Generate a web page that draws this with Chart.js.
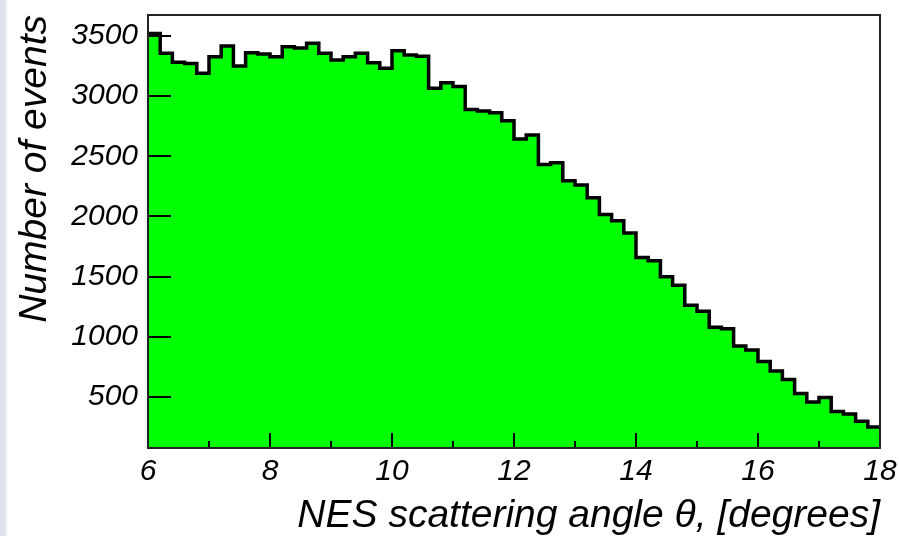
<!DOCTYPE html>
<html>
<head>
<meta charset="utf-8">
<title>NES scattering angle</title>
<script src="https://cdn.jsdelivr.net/npm/chart.js@4.4.0/dist/chart.umd.min.js"></script>
<style>
  html, body { margin: 0; padding: 0; }
  body {
    width: 899px;
    height: 536px;
    overflow: hidden;
    background: linear-gradient(to right, #d8deeb 0px, #dfe4ef 5px, #ffffff 8px);
  }
  canvas { display: block; }
</style>
</head>
<body>
<canvas id="chart" width="899" height="536"></canvas>
<script>
// histogram: 60 bins of 0.2 degrees from 6 to 18
const binStart = 6;
const binWidth = 0.2;
const counts = [
  3520, 3355, 3280, 3270, 3190, 3327, 3416, 3250, 3360, 3349,
  3327, 3410, 3398, 3438, 3355, 3299, 3327, 3355, 3277, 3230,
  3377, 3340, 3330, 3064, 3111, 3080, 2889, 2875, 2861, 2795,
  2642, 2676, 2432, 2446, 2296, 2260, 2155, 2016, 1963, 1863,
  1659, 1631, 1498, 1429, 1262, 1212, 1080, 1066, 923, 891,
  794, 715, 645, 528, 458, 495, 380, 359, 299, 251
];

const xMajorTicks = [6, 8, 10, 12, 14, 16, 18];
const xMinorTicks = [7, 9, 11, 13, 15, 17];
const yTicks = [500, 1000, 1500, 2000, 2500, 3000, 3500];
const yMin = 76;
const yMax = 3673;

// step points at the bin edges, last edge repeats the last count
const points = counts.map((c, i) => ({ x: binStart + i * binWidth, y: c }));
points.push({ x: binStart + counts.length * binWidth, y: counts[counts.length - 1] });

const labelFont = { family: "'Liberation Sans', Arial, sans-serif", style: "italic", size: 30 };
const titleFont = { family: "'Liberation Sans', Arial, sans-serif", style: "italic", size: 39, lineHeight: 1 };

// ROOT style: ticks inside the frame
const rootFrame = {
  id: "rootFrame",
  afterDatasetsDraw(chart) {
    const { ctx, chartArea: a, scales: { x, y } } = chart;
    ctx.save();
    ctx.strokeStyle = "#000";
    ctx.lineWidth = 2;
    ctx.beginPath();
    xMajorTicks.forEach((v) => {
      const px = Math.round(x.getPixelForValue(v));
      ctx.moveTo(px, a.bottom);
      ctx.lineTo(px, a.bottom - 15);
    });
    xMinorTicks.forEach((v) => {
      const px = Math.round(x.getPixelForValue(v));
      ctx.moveTo(px, a.bottom);
      ctx.lineTo(px, a.bottom - 7);
    });
    yTicks.forEach((v) => {
      const py = Math.round(y.getPixelForValue(v));
      ctx.moveTo(a.left, py);
      ctx.lineTo(a.left + 23, py);
    });
    ctx.stroke();

    ctx.strokeStyle = "#222";
    ctx.strokeRect(a.left, a.top, a.right - a.left, a.bottom - a.top);
    ctx.restore();
  },
};

new Chart(document.getElementById("chart"), {
  type: "line",
  data: {
    datasets: [
      {
        label: "events",
        data: points,
        stepped: "before",
        fill: "start",
        backgroundColor: "#00ff00",
        borderColor: "#000",
        borderWidth: 3.5,
        borderJoinStyle: "miter",
        pointRadius: 0,
      },
    ],
  },
  options: {
    responsive: false,
    animation: false,
    layout: { padding: { top: 15, right: 19, left: 0, bottom: 0 } },
    plugins: {
      legend: { display: false },
      tooltip: { enabled: false },
    },
    scales: {
      x: {
        type: "linear",
        min: 6,
        max: 18,
        grid: { display: false, drawTicks: false },
        border: { display: false },
        afterBuildTicks: (s) => { s.ticks = xMajorTicks.map((v) => ({ value: v })); },
        afterFit: (s) => {
          s.height = 88;
          s.paddingLeft = 0;
          s.paddingRight = 0;
        },
        ticks: { font: labelFont, color: "#000", padding: 6, maxRotation: 0, callback: (v) => String(v) },
        title: {
          display: true,
          text: "NES scattering angle θ, [degrees]",
          align: "end",
          font: titleFont,
          color: "#000",
          padding: { top: 0, bottom: 0 },
        },
      },
      y: {
        min: yMin,
        max: yMax,
        grid: { display: false, drawTicks: false },
        border: { display: false },
        afterBuildTicks: (s) => { s.ticks = yTicks.map((v) => ({ value: v })); },
        afterFit: (s) => {
          s.width = 148;
          s.paddingTop = 0;
          s.paddingBottom = 0;
        },
        ticks: { font: labelFont, color: "#000", padding: 10, callback: (v) => String(v) },
        title: {
          display: true,
          text: "Number of events",
          align: "end",
          font: titleFont,
          color: "#000",
          padding: { top: 16, bottom: 0 },
        },
      },
    },
  },
  plugins: [rootFrame],
});
</script>
</body>
</html>
